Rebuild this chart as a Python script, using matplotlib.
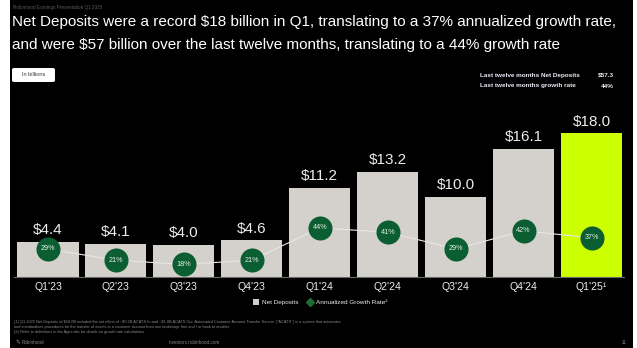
import matplotlib
matplotlib.use("Agg")
import matplotlib.pyplot as plt
from matplotlib.patches import Rectangle, FancyBboxPatch, Patch
from matplotlib.lines import Line2D

plt.rcParams["font.family"] = ["Liberation Sans", "DejaVu Sans"]

# ============================================================
# Data
# ============================================================
quarters = ["Q1'23", "Q2'23", "Q3'23", "Q4'23", "Q1'24",
            "Q2'24", "Q3'24", "Q4'24", "Q1'25\u00b9"]
net_deposits = [4.4, 4.1, 4.0, 4.6, 11.2, 13.2, 10.0, 16.1, 18.0]
growth_rate = [29, 21, 18, 21, 44, 41, 29, 42, 37]

ltm_labels = ["Last twelve months Net Deposits", "Last twelve months growth rate"]
ltm_values = ["$57.3", "44%"]

footnotes = [
    "(1) Q1 2025 Net Deposits of $18.0B included the net effect of ~$0.5B ACATS In and ~$1.0B ACATS Out. "
    "Automated Customer Account Transfer Service (\"ACATS\") is a system that automates",
    "and standardizes procedures for the transfer of assets in a customer account from one brokerage firm and / or bank to another.",
    "(2) Refer to definitions in the Appendix for details on growth rate calculations.",
]

# ============================================================
# Styling
# ============================================================
W, H = 637, 348
BAR_GREY = "#d4d0cb"
NEON = "#ccff00"
GREEN = "#0b5e31"
TXT = "#ececec"


def fx(px):
    return px / W


def fy(py):
    return 1 - py / H


fig = plt.figure(figsize=(W / 100, H / 100), dpi=100, facecolor="white")

# black slide area
fig.patches.append(Rectangle((fx(10), 0), fx(623), 1, transform=fig.transFigure,
                             facecolor="black", edgecolor="none", zorder=-10))

# ── Header ─────────────────────────────────────────────
fig.text(fx(13), fy(8), "Robinhood Earnings Presentation Q1 2025",
         fontsize=3.3, color="#5a5a5a", va="center")
fig.text(fx(12), fy(22),
         "Net Deposits were a record $18 billion in Q1, translating to a 37% annualized growth rate,",
         fontsize=11.0, color="white", va="center")
fig.text(fx(12), fy(45),
         "and were $57 billion over the last twelve months, translating to a 44% growth rate",
         fontsize=11.0, color="white", va="center")

# "In billions" tag
fig.patches.append(FancyBboxPatch((fx(12), fy(82)), fx(43), 14 / H,
                                  boxstyle="round,pad=0,rounding_size=0.004",
                                  transform=fig.transFigure, facecolor="white",
                                  edgecolor="none"))
fig.text(fx(33.5), fy(75), "In billions", fontsize=4, color="#333333",
         ha="center", va="center")

# LTM stats
for i, (lab, val) in enumerate(zip(ltm_labels, ltm_values)):
    yy = fy(75 + 11 * i)
    fig.text(fx(480), yy, lab, fontsize=4.6, color="#e8ecf5",
             fontweight="bold", va="center")
    fig.text(fx(614), yy, val, fontsize=4.6, color="#e8ecf5",
             fontweight="bold", va="center", ha="right")

# ── Chart ──────────────────────────────────────────────
ax = fig.add_axes([fx(14), 1 - 277 / H, (624 - 14) / W, 177 / H])
ax.set_facecolor("none")
x = list(range(len(quarters)))
colors = [BAR_GREY] * (len(quarters) - 1) + [NEON]
ax.bar(x, net_deposits, width=0.9, color=colors, zorder=1)
for xi, v in zip(x, net_deposits):
    ax.text(xi, v + 0.6, f"${v:.1f}", ha="center", va="bottom",
            fontsize=11, color=TXT)

ax.set_xlim(-0.5, 8.478)
ax.set_ylim(0, 22.18)
ax.set_xticks(x, quarters)
ax.tick_params(axis="x", length=0, pad=3.5, labelsize=7.6, labelcolor=TXT)
ax.set_yticks([])
for side in ["top", "right", "left"]:
    ax.spines[side].set_visible(False)
ax.spines["bottom"].set_color("#6a6a6a")
ax.spines["bottom"].set_linewidth(0.8)

ax2 = ax.twinx()
ax2.set_ylim(9, 135.4)
ax2.set_axis_off()
ax2.plot(x, growth_rate, color="#e9e7e3", linewidth=0.8, zorder=2)
ax2.scatter(x, growth_rate, s=300, color=GREEN, zorder=3, linewidths=0)
for xi, g in zip(x, growth_rate):
    ax2.text(xi, g, f"{g}%", ha="center", va="center", fontsize=5.2,
             color="#e6efe8", zorder=4)

# ── Legend ─────────────────────────────────────────────
handles = [
    Patch(facecolor=BAR_GREY, edgecolor="none", label="Net Deposits"),
    Line2D([0], [0], marker="D", color="#1d6b35", markersize=3.8,
           linestyle="-", linewidth=0.8, label="Annualized Growth Rate\u00b2"),
]
fig.legend(handles=handles, loc="center", bbox_to_anchor=(fx(320), fy(302)),
           ncol=2, frameon=False, fontsize=4.6, labelcolor=TXT,
           handlelength=1.0, handleheight=1.0, handletextpad=0.5,
           columnspacing=1.2)

# ── Footnotes & footer ─────────────────────────────────
for i, line in enumerate(footnotes):
    fig.text(fx(14), fy(322 + 4.8 * i), line, fontsize=2.8,
             color="#8a8a8a", va="center")

fig.text(fx(16), fy(343), "\u270e", fontsize=4, color="#9a9a9a",
         va="center", family="DejaVu Sans")
fig.text(fx(22), fy(343), "Robinhood", fontsize=3.3, color="#8a8a8a", va="center")
fig.text(fx(169), fy(343), "investors.robinhood.com", fontsize=3.3,
         color="#8a8a8a", va="center")
fig.text(fx(622), fy(343), "11", fontsize=3.3, color="#8a8a8a", va="center")

fig.savefig("out.png", dpi=100, facecolor="white")
